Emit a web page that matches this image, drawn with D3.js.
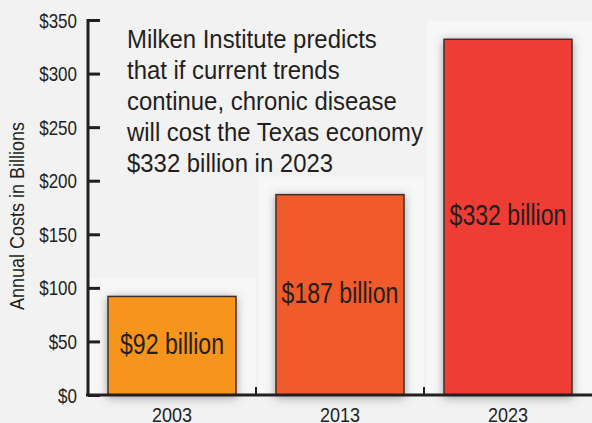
<!DOCTYPE html>
<html>
<head>
<meta charset="utf-8">
<script src="https://cdn.jsdelivr.net/npm/d3@7"></script>
<style>
  html, body { margin: 0; padding: 0; background: #f2f2f2; }
  text { font-family: "Liberation Sans Narrow", "Arial Narrow", "Liberation Sans", sans-serif; fill: #231f20; }
</style>
</head>
<body>
<div id="canvas"></div>
<script>
// Chart data.
const years = ["2003", "2013", "2023"];
const costs = [92, 187, 332];
const barLabels = ["$92 billion", "$187 billion", "$332 billion"];
const barColors = ["#f7941d", "#f15a29", "#ef3e36"];
const yTicks = [0, 50, 100, 150, 200, 250, 300, 350];
const noteLines = [
    "Milken Institute predicts",
    "that if current trends",
    "continue, chronic disease",
    "will cost the Texas economy",
    "$332 billion in 2023"
];

const w = 592, h = 423;
const plotLeft = 88, plotRight = 592, plotTop = 20, plotBottom = 395;

const svg = d3.select("#canvas")
    .append("svg")
    .attr("width", w)
    .attr("height", h);

svg.append("rect")
    .attr("width", w)
    .attr("height", h)
    .attr("fill", "#f2f2f2");

// Soft shadow under the bars.
const filter = svg.append("defs").append("filter")
    .attr("id", "shadow")
    .attr("x", "-20%").attr("y", "-20%")
    .attr("width", "140%").attr("height", "140%");
filter.append("feDropShadow")
    .attr("dx", 0).attr("dy", 2)
    .attr("stdDeviation", 5)
    .attr("flood-color", "#555")
    .attr("flood-opacity", 0.55);

const xScale = d3.scaleBand()
    .domain(years)
    .range([plotLeft, plotRight]);

const barScale = d3.scaleBand()
    .domain(years)
    .range([plotLeft, plotRight])
    .paddingInner(0.238)
    .paddingOuter(0.119);

const yScale = d3.scaleLinear()
    .domain([0, 350])
    .range([plotBottom, plotTop]);

// The original uses a condensed face; squeeze the text horizontally.
function squeeze(x, y, sx, rotate) {
    return `translate(${x},${y})` + (rotate ? ` rotate(${rotate})` : "") + ` scale(${sx},1)`;
}

// Lighter panels behind each bar.
svg.selectAll("rect.panel")
    .data(costs)
    .enter()
    .append("rect")
    .attr("class", "panel")
    .attr("x", (d, i) => xScale(years[i]) + 2)
    .attr("y", d => yScale(d) - 18)
    .attr("width", xScale.bandwidth() - 2)
    .attr("height", d => plotBottom - yScale(d) + 18)
    .attr("fill", "#f7f7f7");

// Bars.
svg.selectAll("rect.bar")
    .data(costs)
    .enter()
    .append("rect")
    .attr("class", "bar")
    .attr("x", (d, i) => barScale(years[i]))
    .attr("y", d => yScale(d))
    .attr("width", barScale.bandwidth())
    .attr("height", d => plotBottom - yScale(d))
    .attr("fill", (d, i) => barColors[i])
    .attr("stroke", "#3b2f2f")
    .attr("stroke-width", 1.5)
    .attr("filter", "url(#shadow)");

// Value labels inside the bars.
svg.selectAll("text.value")
    .data(costs)
    .enter()
    .append("text")
    .attr("class", "value")
    .attr("transform", (d, i) => squeeze(barScale(years[i]) + barScale.bandwidth() / 2, yScale(d / 2) + 8, 0.77))
    .attr("text-anchor", "middle")
    .attr("font-size", 30)
    .text((d, i) => barLabels[i]);

// Y axis.
const yAxis = d3.axisRight(yScale)
    .tickValues(yTicks)
    .tickSize(12)
    .tickFormat(d => "$" + d);
const yg = svg.append("g")
    .attr("transform", `translate(${plotLeft},0)`)
    .call(yAxis);
yg.attr("font-family", null).attr("font-size", null);
yg.select(".domain").remove();
yg.append("line")
    .attr("x1", 0).attr("x2", 0)
    .attr("y1", plotTop - 1).attr("y2", plotBottom + 1)
    .attr("stroke", "#231f20")
    .attr("stroke-width", 3);
yg.selectAll(".tick line")
    .attr("stroke", "#231f20")
    .attr("stroke-width", 3);
yg.selectAll(".tick text")
    .attr("x", null)
    .attr("dy", null)
    .attr("transform", squeeze(-11, 7, 0.85))
    .attr("text-anchor", "end")
    .attr("font-size", 20)
    .attr("fill", "#231f20");

// X axis with separators between categories.
svg.append("line")
    .attr("x1", plotLeft - 2).attr("x2", plotRight)
    .attr("y1", plotBottom).attr("y2", plotBottom)
    .attr("stroke", "#231f20")
    .attr("stroke-width", 3);
svg.selectAll("line.sep")
    .data(years.slice(1))
    .enter()
    .append("line")
    .attr("class", "sep")
    .attr("x1", d => xScale(d)).attr("x2", d => xScale(d))
    .attr("y1", plotBottom - 8).attr("y2", plotBottom)
    .attr("stroke", "#231f20")
    .attr("stroke-width", 2);
svg.selectAll("text.year")
    .data(years)
    .enter()
    .append("text")
    .attr("class", "year")
    .attr("transform", d => squeeze(xScale(d) + xScale.bandwidth() / 2, 422, 0.9))
    .attr("text-anchor", "middle")
    .attr("font-size", 20)
    .text(d => d);

// Y axis title.
svg.append("text")
    .attr("transform", squeeze(24, 216, 0.9, -90))
    .attr("text-anchor", "middle")
    .attr("font-size", 20)
    .text("Annual Costs in Billions");

// Annotation.
svg.selectAll("text.note")
    .data(noteLines)
    .enter()
    .append("text")
    .attr("class", "note")
    .attr("transform", (d, i) => squeeze(127, 48 + i * 31, 0.92))
    .attr("font-size", 26)
    .text(d => d);
</script>
</body>
</html>
